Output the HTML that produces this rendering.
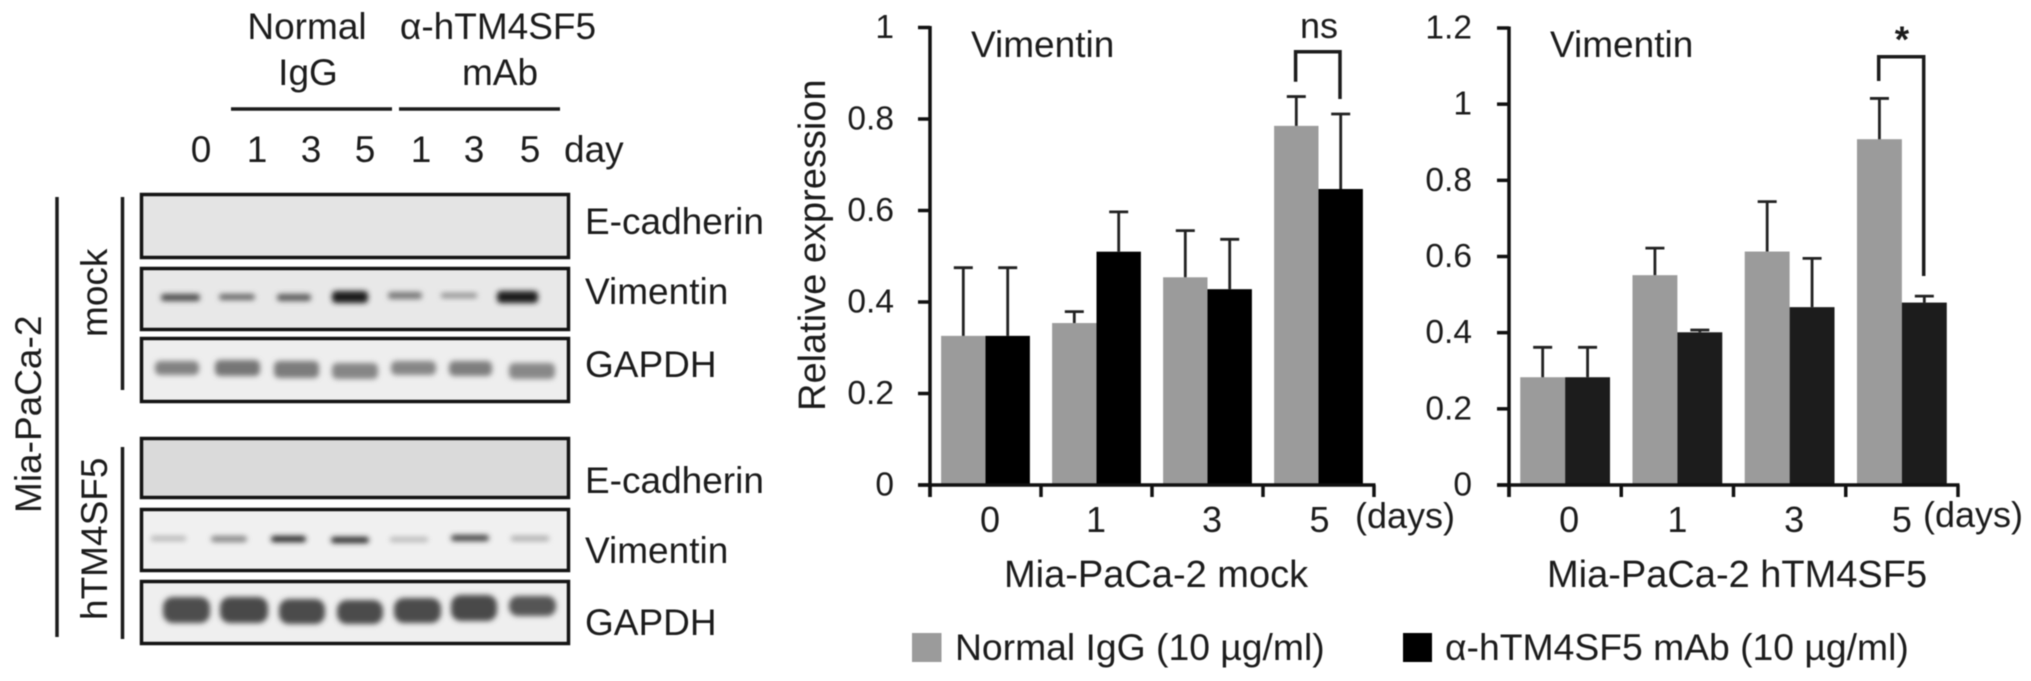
<!DOCTYPE html>
<html lang="en">
<head>
<meta charset="utf-8">
<title>Vimentin expression in Mia-PaCa-2 cells</title>
<style>
html,body{margin:0;padding:0;background:#fff;width:2031px;height:681px;overflow:hidden}
svg{display:block;filter:blur(0.5px)}
text{font-family:"Liberation Sans",sans-serif;fill:#1c1c1c}
.t37{font-size:37px}
.blot{stroke:#141414;stroke-width:3.5}
.band{filter:url(#soft)}
.rule{stroke:#1c1c1c;stroke-width:3.5;fill:none}
</style>
</head>
<body>
<svg id="figure" xmlns="http://www.w3.org/2000/svg" width="2031" height="681" viewBox="0 0 2031 681">
<defs>
<filter id="soft" x="-30%" y="-100%" width="160%" height="300%"><feGaussianBlur stdDeviation="2.6"/></filter>
</defs>

<g id="western-blot">
  <text class="t37" x="307" y="39" text-anchor="middle">Normal</text>
  <text class="t37" x="308" y="85" text-anchor="middle">IgG</text>
  <text class="t37" x="498" y="39" text-anchor="middle">α-hTM4SF5</text>
  <text class="t37" x="500" y="85" text-anchor="middle">mAb</text>
  <line class="rule" x1="231" y1="109" x2="392" y2="109"/>
  <line class="rule" x1="399" y1="109" x2="560" y2="109"/>

  <text class="t37" x="201" y="162" text-anchor="middle">0</text>
  <text class="t37" x="257" y="162" text-anchor="middle">1</text>
  <text class="t37" x="311" y="162" text-anchor="middle">3</text>
  <text class="t37" x="365" y="162" text-anchor="middle">5</text>
  <text class="t37" x="421" y="162" text-anchor="middle">1</text>
  <text class="t37" x="474" y="162" text-anchor="middle">3</text>
  <text class="t37" x="530" y="162" text-anchor="middle">5</text>
  <text class="t37" x="564" y="162">day</text>

  <line class="rule" x1="57" y1="197" x2="57" y2="637"/>
  <line class="rule" x1="122.5" y1="197" x2="122.5" y2="390"/>
  <line class="rule" x1="122.5" y1="447" x2="122.5" y2="639"/>
  <text class="t37" transform="translate(41 513) rotate(-90)">Mia-PaCa-2</text>
  <text class="t37" transform="translate(107 337) rotate(-90)">mock</text>
  <text class="t37" transform="translate(107 620) rotate(-90)">hTM4SF5</text>

  <rect class="blot" x="141.500" y="194.500" width="427" height="63" fill="#e4e4e4"/>
  <rect class="blot" x="141.500" y="268.500" width="427" height="61" fill="#e8e8e8"/>
  <rect class="blot" x="141.500" y="338.500" width="427" height="63" fill="#eeeeee"/>
  <rect class="blot" x="141.500" y="438.500" width="427" height="59" fill="#dadada"/>
  <rect class="blot" x="141.500" y="509.500" width="427" height="61" fill="#f0f0f0"/>
  <rect class="blot" x="141.500" y="581.500" width="427" height="62" fill="#efefef"/>

  <g>
    <rect class="band" x="161" y="294" width="39" height="7" rx="3" fill="#4c4c4c"/>
    <rect class="band" x="219" y="294" width="36" height="6" rx="3" fill="#666"/>
    <rect class="band" x="277" y="294" width="34" height="7" rx="3" fill="#5c5c5c"/>
    <rect class="band" x="332" y="291" width="36" height="12" rx="4" fill="#1e1e1e"/>
    <rect class="band" x="388" y="292" width="34" height="7" rx="3" fill="#777"/>
    <rect class="band" x="441" y="293" width="36" height="5" rx="2" fill="#8f8f8f"/>
    <rect class="band" x="497" y="291" width="41" height="12" rx="4" fill="#1e1e1e"/>
  </g>
  <g>
    <rect class="band" x="155" y="361" width="44" height="14" rx="5" fill="#828282"/>
    <rect class="band" x="215" y="360" width="45" height="16" rx="5" fill="#767676"/>
    <rect class="band" x="274" y="361" width="45" height="17" rx="5" fill="#7c7c7c"/>
    <rect class="band" x="332" y="363" width="46" height="16" rx="5" fill="#868686"/>
    <rect class="band" x="391" y="361" width="45" height="14" rx="5" fill="#868686"/>
    <rect class="band" x="449" y="361" width="43" height="15" rx="5" fill="#7e7e7e"/>
    <rect class="band" x="509" y="363" width="46" height="16" rx="5" fill="#888"/>
  </g>
  <g>
    <rect class="band" x="151" y="536" width="35" height="5" rx="2" fill="#b5b5b5"/>
    <rect class="band" x="211" y="536" width="36" height="6" rx="3" fill="#858585"/>
    <rect class="band" x="271" y="536" width="35" height="6" rx="3" fill="#222"/>
    <rect class="band" x="331" y="537" width="38" height="6" rx="3" fill="#262626"/>
    <rect class="band" x="390" y="537" width="38" height="5" rx="2" fill="#b8b8b8"/>
    <rect class="band" x="451" y="535" width="38" height="6" rx="3" fill="#404040"/>
    <rect class="band" x="511" y="536" width="38" height="5" rx="2" fill="#aaa"/>
  </g>
  <g>
    <rect class="band" x="163" y="597" width="47" height="26" rx="10" fill="#4e4e4e"/>
    <rect class="band" x="220" y="597" width="48" height="26" rx="10" fill="#484848"/>
    <rect class="band" x="279" y="599" width="46" height="25" rx="10" fill="#4c4c4c"/>
    <rect class="band" x="337" y="600" width="46" height="24" rx="10" fill="#4c4c4c"/>
    <rect class="band" x="394" y="598" width="47" height="25" rx="10" fill="#4c4c4c"/>
    <rect class="band" x="451" y="595" width="46" height="26" rx="10" fill="#4a4a4a"/>
    <rect class="band" x="509" y="596" width="47" height="20" rx="9" fill="#545454"/>
  </g>

  <text class="t37" x="585" y="234">E-cadherin</text>
  <text class="t37" x="585" y="304">Vimentin</text>
  <text class="t37" x="585" y="377">GAPDH</text>
  <text class="t37" x="585" y="493">E-cadherin</text>
  <text class="t37" x="585" y="563">Vimentin</text>
  <text class="t37" x="585" y="635">GAPDH</text>
</g>

<g id="chart-mock">
  <text style="font-size:38px" transform="translate(825 411) rotate(-90)">Relative expression</text>
  <text class="t37" x="971" y="57">Vimentin</text>
  <text style="font-size:36px" x="1300" y="38">ns</text>
  <path class="rule" d="M1295.6 81.700V51.700H1340V99"/>
  <text style="font-size:36px" x="1355" y="528">(days)</text>
  <text style="font-size:38px" x="1004" y="587">Mia-PaCa-2 mock</text>
</g>

<g id="chart-htm">
  <text class="t37" x="1550" y="57">Vimentin</text>
  <text style="font-size:37px;font-weight:bold" x="1902" y="52" text-anchor="middle">*</text>
  <path class="rule" d="M1878.700 81V56.700H1923.700V276"/>
  <text style="font-size:36px" x="1923" y="527">(days)</text>
  <text style="font-size:38px" x="1547" y="587">Mia-PaCa-2 hTM4SF5</text>
</g>

<g id="legend">
  <g>
    <rect x="912" y="633" width="29.500" height="29" fill="#9b9b9b"/>
    <text style="font-size:37.300px" x="955" y="660">Normal IgG (10 µg/ml)</text>
  </g>
  <g>
    <rect x="1403" y="633" width="29" height="29" fill="#000"/>
    <text style="font-size:37.300px" x="1445" y="660">α-hTM4SF5 mAb (10 µg/ml)</text>
  </g>
</g>
</svg>

<script>
const categories = ['0', '1', '3', '5'];

const mockIgG = [0.326, 0.354, 0.454, 0.785];
const mockIgGUpper = [0.475, 0.379, 0.556, 0.849];
const mockMab = [0.326, 0.510, 0.428, 0.647];
const mockMabUpper = [0.475, 0.597, 0.537, 0.811];
const mockTicks = ['0', '0.2', '0.4', '0.6', '0.8', '1'];

const htmIgG = [0.283, 0.551, 0.613, 0.908];
const htmIgGUpper = [0.3615, 0.622, 0.744, 1.015];
const htmMab = [0.283, 0.401, 0.467, 0.479];
const htmMabUpper = [0.3615, 0.407, 0.595, 0.496];
const htmTicks = ['0', '0.2', '0.4', '0.6', '0.8', '1', '1.2'];

const NS = 'http://www.w3.org/2000/svg';

function mk(parent, tag, attrs) {
  const el = document.createElementNS(NS, tag);
  for (const k in attrs) el.setAttribute(k, attrs[k]);
  parent.appendChild(el);
  return el;
}

function drawChart(cfg) {
  const root = document.getElementById(cfg.id);
  const yScale = v => cfg.y0 - (v / cfg.yMax) * (cfg.y0 - cfg.yTop);
  const band = (cfg.x1 - cfg.x0) / categories.length;
  const bandLeft = i => cfg.x0 + i * band;
  const barW = band * 0.4;
  const barPad = band * 0.1;
  const barX = (i, s) => bandLeft(i) + barPad + s * barW;

  cfg.series.forEach((vals, s) => {
    vals.forEach((v, i) => {
      const bar = mk(root, 'rect', {
        x: barX(i, s),
        y: yScale(v),
        width: barW,
        height: cfg.y0 - yScale(v),
        fill: cfg.colors[s]
      });
      
      

      const cx = barX(i, s) + barW / 2;
      const errY = yScale(cfg.upper[s][i]);
      const err = mk(root, 'path', {
        d: 'M' + cx + ' ' + yScale(v) + 'V' + errY + 'M' + (cx - 9.500) + ' ' + errY + 'H' + (cx + 9.500),
        stroke: '#222',
        'stroke-width': 2.8,
        fill: 'none'
      });
      
      
    });
  });

  const axisY = mk(root, 'line', {x1: cfg.x0, y1: cfg.yTop - 1.5, x2: cfg.x0, y2: cfg.y0 + 12, stroke: '#111', 'stroke-width': 3.5});
  
  

  const axisX = mk(root, 'line', {x1: cfg.x0 - 12, y1: cfg.y0, x2: cfg.x1 + 1.5, y2: cfg.y0, stroke: '#111', 'stroke-width': 3.5});
  
  

  cfg.ticks.forEach(label => {
    const y = yScale(parseFloat(label));
    const tick = mk(root, 'line', {x1: cfg.x0 - 12, y1: y, x2: cfg.x0, y2: y, stroke: '#111', 'stroke-width': 3.5});
    
    

    const txt = mk(root, 'text', {x: cfg.tickLabelX, y: y + 10.500, 'text-anchor': 'end', 'font-size': 33.500});
    txt.textContent = label;
    
    
  });

  for (let i = 0; i <= categories.length; i++) {
    const x = bandLeft(i);
    const tick = mk(root, 'line', {x1: x, y1: cfg.y0, x2: x, y2: cfg.y0 + 12, stroke: '#111', 'stroke-width': 3.5});
    
    
  }

  categories.forEach((c, i) => {
    const txt = mk(root, 'text', {x: bandLeft(i) + band / 2 + cfg.labelShift[i], y: 532, 'text-anchor': 'middle', 'font-size': 36});
    txt.textContent = c;
    
    
  });
}

drawChart({
  id: 'chart-mock', prefix: 'mock',
  x0: 930, x1: 1374, y0: 485, yTop: 27.5, yMax: 1, tickLabelX: 894,
  series: [mockIgG, mockMab], upper: [mockIgGUpper, mockMabUpper],
  seriesNames: ['normal-igg', 'anti-htm4sf5'],
  colors: ['#9b9b9b', '#000000'], ticks: mockTicks, labelShift: [4.500, -0.500, 4.500, 1]
});

drawChart({
  id: 'chart-htm', prefix: 'htm4sf5',
  x0: 1509, x1: 1958, y0: 485, yTop: 28, yMax: 1.2, tickLabelX: 1472,
  series: [htmIgG, htmMab], upper: [htmIgGUpper, htmMabUpper],
  seriesNames: ['normal-igg', 'anti-htm4sf5'],
  colors: ['#9b9b9b', '#1c1c1c'], ticks: htmTicks, labelShift: [4, 0, 4.500, 0]
});
</script>
</body>
</html>
